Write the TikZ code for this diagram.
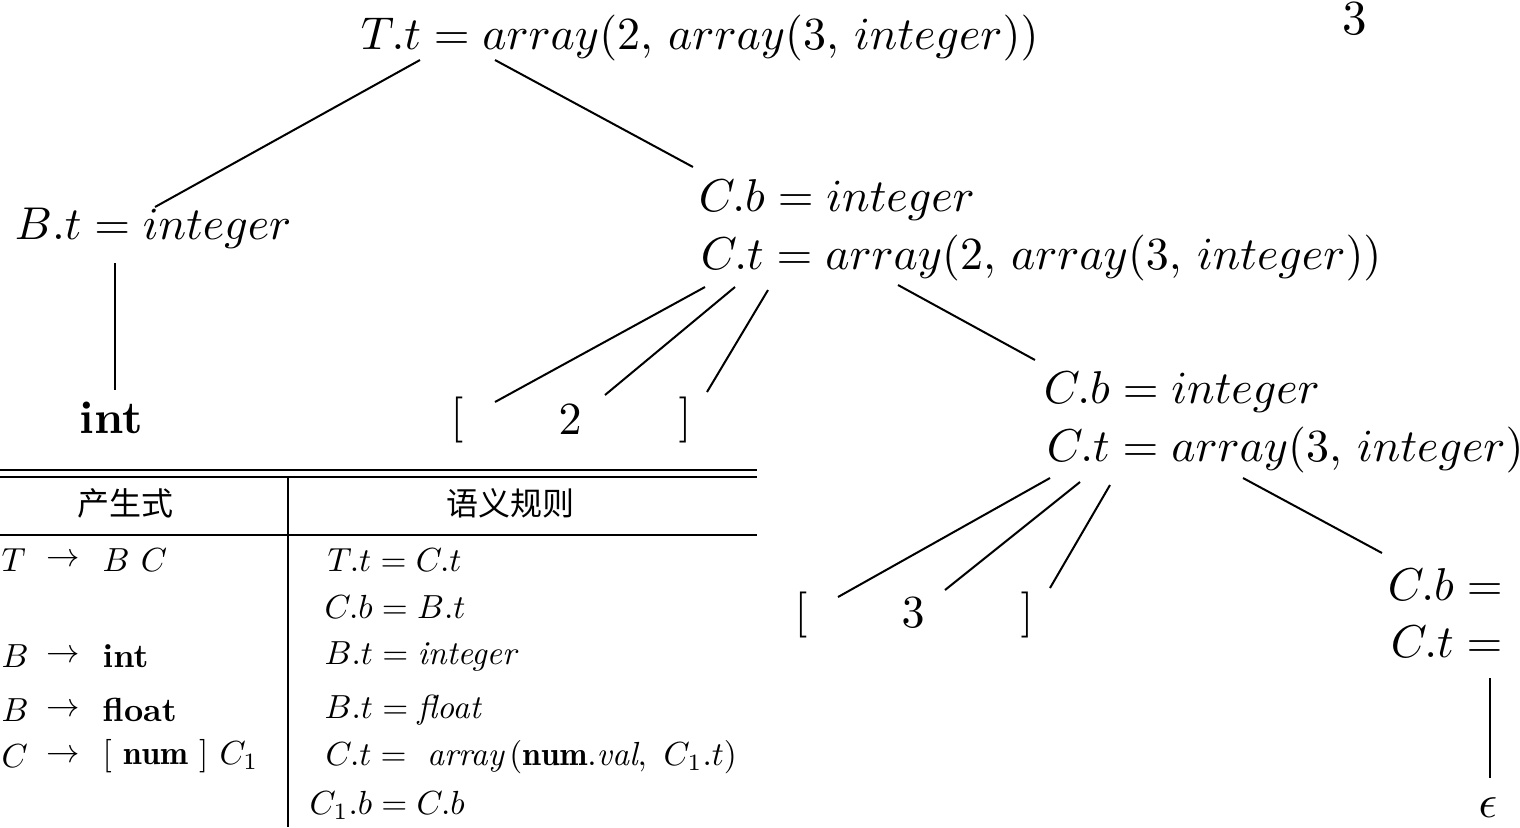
\documentclass[tikz,border=0pt]{standalone}
\usepackage{fontspec}
\newfontfamily\cjk{Noto Sans CJK SC}
\begin{document}
\begin{tikzpicture}[x=0.5pt,y=-0.5pt,
  tr/.style={inner sep=0pt, scale=2.3},
  tb/.style={inner sep=0pt, scale=1.67},
  hd/.style={inner sep=0pt, scale=1.6, font=\cjk},
  ln/.style={line width=1pt},
  rule/.style={line width=1.1pt}]
\useasboundingbox (0,0) rectangle (1520,827);
% ---------- tree ----------
\node[inner sep=0pt, scale=2.45] (pg) at (1355,19) {3};
\node[tr, anchor=west] (root) at (360,38) {$T.t = array(2,\,array(3,\,integer))$};
\node[tr, anchor=west] (bt) at (14,228) {$B.t = integer$};
\node[tr] (int) at (111,418) {\textbf{int}};
\node[tr, anchor=west] (c1b) at (698,200) {$C.b = integer$};
\node[tr, anchor=west] (c1t) at (700,258) {$C.t = array(2,\,array(3,\,integer))$};
\node[tr] (lb1) at (457,420) {$[$};
\node[tr] (n2) at (570,420) {$2$};
\node[tr] (rb1) at (685,420) {$]$};
\node[tr, anchor=west] (c2b) at (1043,392) {$C.b = integer$};
\node[tr, anchor=west] (c2t) at (1046,450) {$C.t = array(3,\,integer)$};
\node[tr] (lb2) at (801,615) {$[$};
\node[tr] (n3) at (913,613) {$3$};
\node[tr] (rb2) at (1027,615) {$]$};
\node[tr, anchor=west] (c3b) at (1387,585) {$C.b =$};
\node[tr, anchor=west] (c3t) at (1390,642) {$C.t =$};
\node[tr] (eps) at (1488,808) {$\epsilon$};
% connector end points
\coordinate (r1) at (420,60);  \coordinate (b1) at (155,207);
\coordinate (r2) at (495,60);  \coordinate (k1) at (693,167);
\coordinate (bd) at (115,263); \coordinate (iu) at (115,390);
\coordinate (a1) at (705,287); \coordinate (a1e) at (495,402);
\coordinate (a2) at (735,287); \coordinate (a2e) at (605,395);
\coordinate (a3) at (768,290); \coordinate (a3e) at (707,392);
\coordinate (a4) at (898,285); \coordinate (a4e) at (1035,360);
\coordinate (d1) at (1050,478); \coordinate (d1e) at (838,597);
\coordinate (d2) at (1080,482); \coordinate (d2e) at (945,590);
\coordinate (d3) at (1110,485); \coordinate (d3e) at (1050,588);
\coordinate (d4) at (1243,478); \coordinate (d4e) at (1382,553);
\coordinate (e1) at (1490,678); \coordinate (e1e) at (1490,778);
\draw[ln] (r1) -- (b1);
\draw[ln] (r2) -- (k1);
\draw[ln] (bd) -- (iu);
\draw[ln] (a1) -- (a1e);
\draw[ln] (a2) -- (a2e);
\draw[ln] (a3) -- (a3e);
\draw[ln] (a4) -- (a4e);
\draw[ln] (d1) -- (d1e);
\draw[ln] (d2) -- (d2e);
\draw[ln] (d3) -- (d3e);
\draw[ln] (d4) -- (d4e);
\draw[ln] (e1) -- (e1e);
% ---------- table ----------
\coordinate (t1l) at (0,470); \coordinate (t1r) at (757,470);
\coordinate (t2l) at (0,477); \coordinate (t2r) at (757,477);
\coordinate (t3l) at (0,535); \coordinate (t3r) at (757,535);
\coordinate (vt) at (288,477); \coordinate (vb) at (288,827);
\draw[rule] (t1l) -- (t1r);
\draw[rule] (t2l) -- (t2r);
\draw[rule] (t3l) -- (t3r);
\draw[line width=0.9pt] (vt) -- (vb);
\node[hd] (h1) at (125,503) {产生式};
\node[hd] (h2) at (510,503) {语义规则};
% left column
\node[tb, anchor=west] (l1) at (1,560) {$T$};
\node[tb] (ar1) at (63,560) {$\rightarrow$};
\node[tb, anchor=west] (r1t) at (102,560) {$B\ C$};
\node[tb, anchor=west] (l2) at (1,656) {$B$};
\node[tb] (ar2) at (63,656) {$\rightarrow$};
\node[tb, anchor=west] (r2t) at (102,656) {\textbf{int}};
\node[tb, anchor=west] (l3) at (1,710) {$B$};
\node[tb] (ar3) at (63,710) {$\rightarrow$};
\node[tb, anchor=west] (r3t) at (102,710) {\textbf{float}};
\node[tb, anchor=west] (l4) at (1,756) {$C$};
\node[tb] (ar4) at (63,756) {$\rightarrow$};
\node[tb, anchor=west] (r4t) at (102,756) {$[\ \mathbf{num}\ ]\ C_1$};
% right column
\node[tb, anchor=west] (s1) at (327,560) {$T.t = C.t$};
\node[tb, anchor=west] (s2) at (324,607) {$C.b = B.t$};
\node[tb, anchor=west] (s3) at (324,656) {$B.t = \textit{integer}$};
\node[tb, anchor=west] (s4) at (324,710) {$B.t = \textit{float}$};
\node[tb, anchor=west] (s5) at (325,757) {$C.t =\ \textit{array}\,(\mathbf{num}.\textit{val},\ C_1.t)$};
\node[tb, anchor=west] (s6) at (309,805) {$C_1.b = C.b$};
\end{tikzpicture}
\end{document}
